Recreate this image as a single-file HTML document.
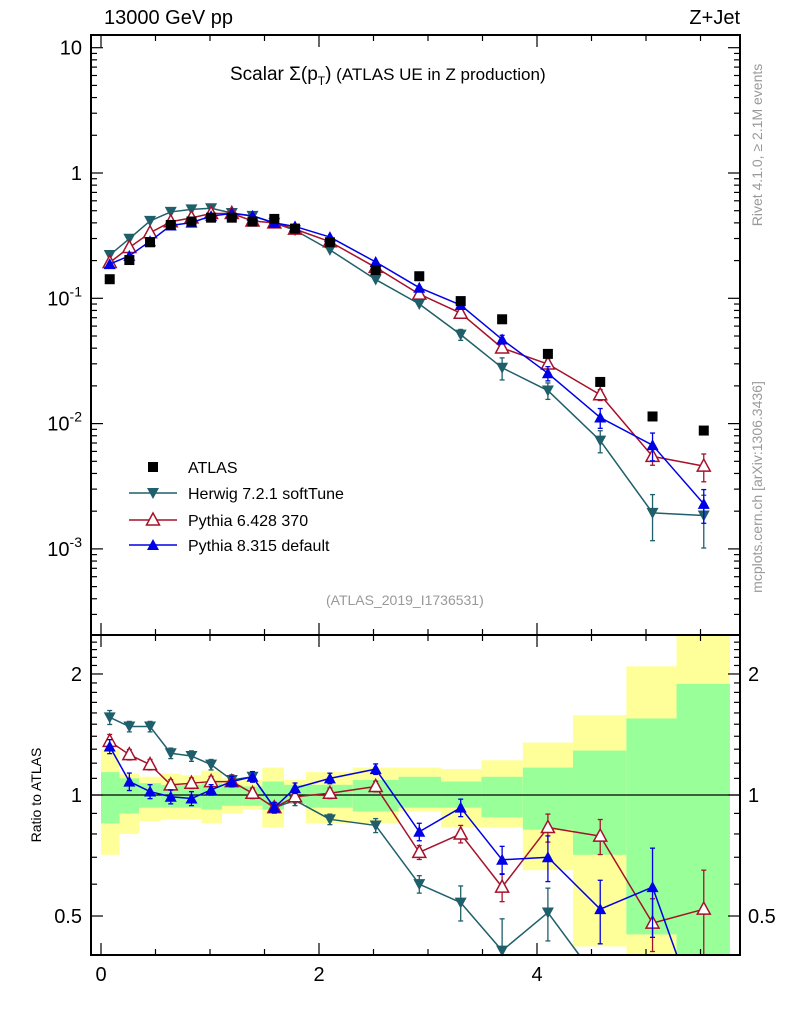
<!DOCTYPE html>
<html><head><meta charset="utf-8"><style>
html,body{margin:0;padding:0;background:#fff;width:786px;height:1024px;overflow:hidden;}
svg{display:block;font-family:"Liberation Sans",sans-serif;}
</style></head><body>
<svg id="c" width="786" height="1024" viewBox="0 0 786 1024" xmlns="http://www.w3.org/2000/svg">
<text x="104" y="24" font-size="20">13000 GeV pp</text>
<text x="740" y="24" font-size="20" text-anchor="end">Z+Jet</text>
<text x="230" y="80" font-size="17"><tspan font-size="19">Scalar Σ(p</tspan><tspan font-size="12" dy="5">T</tspan><tspan font-size="19" dy="-5">)</tspan> (ATLAS UE in Z production)</text>
<text x="326" y="605" font-size="14" fill="#999">(ATLAS_2019_I1736531)</text>
<text transform="translate(41,795) rotate(-90)" font-size="14" text-anchor="middle">Ratio to ATLAS</text>
<text transform="translate(762,145) rotate(-90)" font-size="14" fill="#999" text-anchor="middle">Rivet 4.1.0, ≥ 2.1M events</text>
<text transform="translate(762,487) rotate(-90)" font-size="14" fill="#999" text-anchor="middle">mcplots.cern.ch [arXiv:1306.3436]</text>
</svg>
<script>
const xCenters=[0.08,0.26,0.45,0.64,0.83,1.01,1.2,1.39,1.59,1.78,2.1,2.52,2.92,3.3,3.68,4.1,4.58,5.06,5.53];
const binEdges=[0,0.17,0.35,0.55,0.73,0.92,1.11,1.3,1.48,1.68,1.88,2.31,2.73,3.12,3.49,3.87,4.33,4.82,5.28,5.77];
const atlasVals=[0.142,0.202,0.28,0.385,0.41,0.44,0.44,0.41,0.43,0.36,0.28,0.168,0.15,0.095,0.068,0.036,0.0215,0.0114,0.0088];
const herwigRatio=[1.56,1.48,1.48,1.27,1.25,1.19,1.09,1.11,0.93,0.97,0.87,0.84,0.60,0.54,0.41,0.51,0.34,0.17,0.21];
const py6Ratio=[1.36,1.26,1.19,1.06,1.07,1.08,1.08,1.01,0.93,0.99,1.01,1.05,0.72,0.80,0.59,0.83,0.79,0.48,0.52];
const py8Ratio=[1.32,1.08,1.02,0.99,0.98,1.03,1.08,1.11,0.93,1.04,1.10,1.16,0.81,0.93,0.69,0.70,0.52,0.59,0.26];
const herwigErr=[0.04,0.03,0.03,0.03,0.03,0.03,0.03,0.03,0.03,0.03,0.03,0.04,0.05,0.1,0.2,0.15,0.2,0.4,0.45];
const py6Err=[0.04,0.03,0.03,0.03,0.03,0.03,0.03,0.03,0.03,0.03,0.03,0.03,0.04,0.05,0.08,0.08,0.1,0.15,0.25];
const py8Err=[0.04,0.05,0.04,0.04,0.04,0.03,0.03,0.03,0.03,0.03,0.03,0.03,0.05,0.05,0.08,0.13,0.18,0.25,0.3];
const greenHi=[1.14,1.10,1.07,1.06,1.06,1.07,1.06,1.05,1.08,1.06,1.06,1.09,1.11,1.08,1.11,1.17,1.29,1.55,1.89];
const greenLo=[0.85,0.90,0.93,0.93,0.93,0.92,0.94,0.94,0.92,0.95,0.93,0.91,0.93,0.93,0.88,0.82,0.71,0.45,0.3];
const yellowHi=[1.30,1.13,1.11,1.13,1.12,1.15,1.10,1.09,1.17,1.09,1.14,1.17,1.17,1.16,1.22,1.35,1.58,2.09,2.6];
const yellowLo=[0.71,0.80,0.86,0.87,0.87,0.85,0.90,0.92,0.83,0.95,0.85,0.85,0.91,0.83,0.83,0.65,0.42,0.3,0.3];
const mainTicks=[10,1,0.1,0.01,0.001];
const mainTickLabels=["10","1","10^-1","10^-2","10^-3"];
const ratioTicks=[0.5,1,2];
const xTicks=[0,2,4];

const NS="http://www.w3.org/2000/svg";
const svg=document.getElementById('c');
const L=91,R=740,MT=35,MB=635,RT=635,RB=955;
const X=v=>101+109*v;
const Ym=v=>173-125.3*Math.log10(v);
const Yr=v=>795-402*Math.log10(v);
const clamp=(y,a,b)=>Math.min(Math.max(y,a),b);
function el(tag,attrs,parent){const e=document.createElementNS(NS,tag);for(const k in attrs)e.setAttribute(k,attrs[k]);(parent||svg).appendChild(e);return e;}

const bandG=el('g',{});


for(let i=0;i<xCenters.length;i++){
  const x0=X(binEdges[i]),x1=Math.min(X(binEdges[i+1]),R);
  const yh=clamp(Yr(yellowHi[i]),RT,RB),yl=clamp(Yr(yellowLo[i]),RT,RB);
  const y=el('rect',{x:x0,y:yh,width:x1-x0,height:yl-yh,fill:'#ffff99'},bandG);
  
  
  const gh=clamp(Yr(greenHi[i]),RT,RB),gl=clamp(Yr(greenLo[i]),RT,RB);
  const g=el('rect',{x:x0,y:gh,width:x1-x0,height:gl-gh,fill:'#99ff99'},bandG);
  
  
}
el('line',{x1:L,x2:R,y1:Yr(1),y2:Yr(1),stroke:'#000','stroke-width':1.3});

function marker(parent,type,x,y,col){
  if(type==='sq')return el('rect',{x:x-5,y:y-5,width:10,height:10,fill:'#000'},parent);
  if(type==='down')return el('polygon',{points:`${x-6},${y-5} ${x+6},${y-5} ${x},${y+6}`,fill:col},parent);
  if(type==='upopen')return el('polygon',{points:`${x-6.5},${y+5} ${x+6.5},${y+5} ${x},${y-7}`,fill:'#fff',stroke:col,'stroke-width':1.5},parent);
  return el('polygon',{points:`${x-6},${y+5} ${x+6},${y+5} ${x},${y-6}`,fill:col},parent);
}
// clip a polyline to y in [top,bot], returning segments
function clipSegs(pts,top,bot){
  const segs=[];
  for(let i=0;i<pts.length-1;i++){
    let [x1,y1]=pts[i],[x2,y2]=pts[i+1];
    if((y1>bot&&y2>bot)||(y1<top&&y2<top))continue;
    const cut=(xa,ya,xb,yb,yt)=>xa+(xb-xa)*(yt-ya)/(yb-ya);
    if(y1>bot){x1=cut(x1,y1,x2,y2,bot);y1=bot;}
    if(y2>bot){x2=cut(x1,y1,x2,y2,bot);y2=bot;}
    if(y1<top){x1=cut(x1,y1,x2,y2,top);y1=top;}
    if(y2<top){x2=cut(x1,y1,x2,y2,top);y2=top;}
    segs.push([x1,y1,x2,y2]);
  }
  return segs;
}
const series=[
 {name:'herwig',ratio:herwigRatio,err:herwigErr,col:'#1f5f6b',m:'down',lw:1.5},
 {name:'pythia6',ratio:py6Ratio,err:py6Err,col:'#a5122a',m:'upopen',lw:1.5},
 {name:'pythia8',ratio:py8Ratio,err:py8Err,col:'#0000e6',m:'up',lw:1.5}
];
function drawSeries(s,Yf,main,top,bot){
  const g=el('g',{});
  
  
  const vals=xCenters.map((_,i)=>main?atlasVals[i]*s.ratio[i]:s.ratio[i]);
  const pts=vals.map((v,i)=>[X(xCenters[i]),Yf(v)]);
  clipSegs(pts,top,bot).forEach(([a,b,c,d])=>el('line',{x1:a,y1:b,x2:c,y2:d,stroke:s.col,'stroke-width':s.lw},g));
  vals.forEach((v,i)=>{
    const x=X(xCenters[i]),e=s.err[i];
    const yc=Yf(v);
    const y1=clamp(Yf(v*(1+e)),top,bot),y2=clamp(Yf(Math.max(v*(1-e),1e-6)),top,bot);
    if(y2-y1>8){
      el('line',{x1:x,x2:x,y1:y1,y2:y2,stroke:s.col,'stroke-width':1.3},g);
      if(y1>top)el('line',{x1:x-2.5,x2:x+2.5,y1:y1,y2:y1,stroke:s.col,'stroke-width':1.3},g);
      if(y2<bot)el('line',{x1:x-2.5,x2:x+2.5,y1:y2,y2:y2,stroke:s.col,'stroke-width':1.3},g);
    }
    if(yc>=top&&yc<=bot){
      const m=marker(g,s.m,x,yc,s.col);
      
      
    }
  });
}
series.forEach(s=>drawSeries(s,Ym,true,MT,MB));
series.forEach(s=>drawSeries(s,Yr,false,RT,RB));
const ag=el('g',{});


atlasVals.forEach((v,i)=>{const m=marker(ag,'sq',X(xCenters[i]),Ym(v));
  
  });

el('rect',{x:L,y:MT,width:R-L,height:MB-MT,fill:'none',stroke:'#000','stroke-width':2});
el('rect',{x:L,y:RT,width:R-L,height:RB-RT,fill:'none',stroke:'#000','stroke-width':2});
for(let v=0;v<=5.76;v+=0.5){
  const x=X(v),maj=Math.abs(v%2)<1e-9, len=maj?12:6;
  [[MT,1],[MB,-1],[RT,1],[RB,-1]].forEach(([y,d])=>el('line',{x1:x,x2:x,y1:y,y2:y+d*len,stroke:'#000','stroke-width':1.2}));
}
xTicks.forEach(v=>{const t=el('text',{x:X(v),y:981,'font-size':20,'text-anchor':'middle'});t.textContent=v;
  
  });
for(let d=-4;d<=1;d++){for(let k=1;k<10;k++){const v=k*Math.pow(10,d);const y=Ym(v);if(y<MT||y>MB)continue;
  const len=k===1?12:6;
  el('line',{x1:L,x2:L+len,y1:y,y2:y,stroke:'#000','stroke-width':1.2});
  el('line',{x1:R,x2:R-len,y1:y,y2:y,stroke:'#000','stroke-width':1.2});}}
mainTicks.forEach((v,i)=>{const s=mainTickLabels[i];const t=el('text',{x:82,y:Ym(v)+7,'font-size':20,'text-anchor':'end'});
  
  
  if(s.includes('^')){const [b,e]=s.split('^');t.textContent=b;const ts=el('tspan',{dy:-9,'font-size':14},t);ts.textContent=e;}
  else t.textContent=s;});
for(let v=0.4;v<=2.51;v+=0.1){const y=Yr(v);if(y<RT||y>RB)continue;
  const maj=ratioTicks.some(r=>Math.abs(r-v)<1e-6),len=maj?12:6;
  el('line',{x1:L,x2:L+len,y1:y,y2:y,stroke:'#000','stroke-width':1.2});
  el('line',{x1:R,x2:R-len,y1:y,y2:y,stroke:'#000','stroke-width':1.2});}
ratioTicks.forEach(v=>{
  const t=el('text',{x:82,y:Yr(v)+7,'font-size':20,'text-anchor':'end'});t.textContent=v;
  
  
  const t2=el('text',{x:748,y:Yr(v)+7,'font-size':20});t2.textContent=v;
  
  });
const legend=[['ATLAS','sq','#000',467],['Herwig 7.2.1 softTune','down','#1f5f6b',493],['Pythia 6.428 370','upopen','#a5122a',520],['Pythia 8.315 default','up','#0000e6',545]];
legend.forEach(([n,m,c,y])=>{
  const g=el('g',{});
  
  
  if(m!=='sq')el('line',{x1:129,x2:177,y1:y,y2:y,stroke:c,'stroke-width':1.5},g);
  marker(g,m,153,y,c);
  const t=el('text',{x:188,y:y+6,'font-size':16},g);t.textContent=n;
});
</script>
</body></html>
